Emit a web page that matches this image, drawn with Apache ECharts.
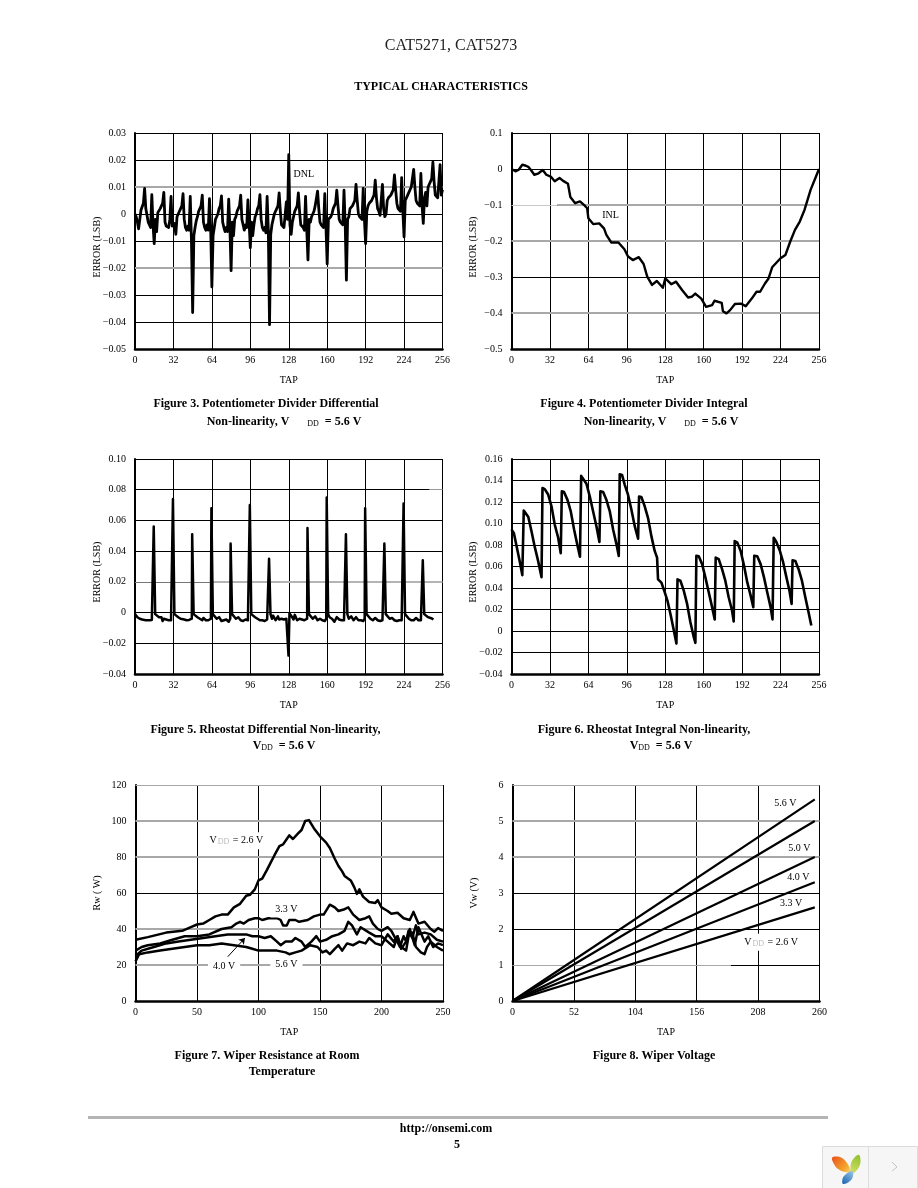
<!DOCTYPE html>
<html><head><meta charset="utf-8">
<style>html,body{margin:0;padding:0;background:#fff}#c{width:918px;height:1188px}</style>
<script src="https://cdn.jsdelivr.net/npm/echarts@6/dist/echarts.min.js"></script>
</head><body><div id="c"></div>
<script>
const taps256 = ['0','32','64','96','128','160','192','224','256'];
const taps250 = ['0','50','100','150','200','250'];
const taps260 = ['0','52','104','156','208','260'];
const fig3Ticks = ['−0.05','−0.04','−0.03','−0.02','−0.01','0','0.01','0.02','0.03'];
const fig4Ticks = ['−0.5','−0.4','−0.3','−0.2','−0.1','0','0.1'];
const fig5Ticks = ['−0.04','−0.02','0','0.02','0.04','0.06','0.08','0.10'];
const fig6Ticks = ['−0.04','−0.02','0','0.02','0.04','0.06','0.08','0.10','0.12','0.14','0.16'];
const fig7Ticks = ['0','20','40','60','80','100','120'];
const fig8Ticks = ['0','1','2','3','4','5','6'];

// Figure 3: DNL, one value per tap
const potDnl = [
0,-.001,-.003,-.0055,-.002,.0015,.002,.004,
.0095,.002,.002,-.003,-.0035,-.005,.0072,-.004,
-.011,-.002,-.0065,.0005,.001,.002,.003,.004,
.008,-.003,-.0045,-.004,-.005,-.002,.0065,-.0045,
-.0045,-.0035,-.0075,-.001,0,.001,.002,.003,
.0075,-.002,-.005,-.006,-.0045,-.006,.0065,-.01,
-.0365,-.008,-.005,-.0025,-.001,.001,.002,.003,
.007,-.003,-.005,-.006,-.004,-.006,.0057,-.005,
-.027,-.008,-.005,-.002,-.001,0,.002,.003,
.0067,-.003,-.005,-.0065,-.005,-.0065,.0055,-.005,
-.021,-.003,-.008,-.002,-.001,.001,.002,.003,
.007,-.002,-.004,-.006,-.004,-.005,.0052,-.003,
-.0125,-.003,-.008,-.004,-.001,0,.002,.003,
.0072,-.002,-.005,-.006,-.005,-.007,.0065,-.006,
-.041,-.0075,-.004,-.002,0,.001,.002,.003,
.0078,.001,-.004,-.0045,-.005,-.0055,.0045,-.002,
.022,-.004,-.0075,-.003,-.001,.001,.002,.003,
.0078,.001,-.004,-.0045,-.005,-.006,.0065,-.006,
-.017,-.002,-.003,-.001,0,.001,.003,.003,
.0085,.002,-.003,-.004,-.004,-.005,.0075,-.005,
-.0185,-.002,-.002,-.001,0,.002,.003,.004,
.0088,.003,-.002,-.003,-.003,-.004,.0088,-.004,
-.0245,-.002,-.001,.002,.002,.003,.004,.005,
.011,.005,0,-.001,-.001,-.002,.0095,-.002,
-.011,.001,.003,.004,.004,.005,.006,.007,
.0125,.006,.002,.001,-.0005,-.001,.011,.002,
-.001,0,.005,.006,.006,.007,.008,.009,
.0145,.009,.004,.002,.002,.001,.0135,.001,
-.0085,.005,.005,.007,.008,.008,.01,.01,
.0165,.01,.005,.004,.004,.003,.015,.003,
-.0035,.006,.008,.003,.01,.011,.011,.013,
.0192,.012,.007,.007,.006,.006,.0183,.007,.009];

// Figure 4: INL
const potInlTap = [0,3.3,6,9,12,14,16,19,22,26,29,33,36,40,43,47,49,53,57,61,63,64,68,73,77,79,83,89,94,97,101,106,110,113,117,121,126,128,133,137,142,147,150,153,158,162,167,169,175,176,179,182,186,191,195,200,204,207,211,214,217,224,228,232,236,240,244,249,253,256];
const potInlErr = [0,-.0065,-.002,.012,.009,.006,-.002,-.016,-.013,-.003,-.016,-.022,-.034,-.025,-.033,-.041,-.078,-.095,-.09,-.102,-.109,-.137,-.153,-.151,-.165,-.183,-.204,-.204,-.223,-.243,-.253,-.245,-.264,-.299,-.322,-.311,-.33,-.304,-.32,-.313,-.336,-.357,-.355,-.346,-.36,-.383,-.378,-.366,-.372,-.395,-.401,-.392,-.375,-.374,-.381,-.36,-.341,-.341,-.318,-.304,-.273,-.248,-.239,-.202,-.169,-.146,-.113,-.058,-.025,0];

// Figure 5: rheostat DNL
const rheoDnl = [
[0,-.001],[1,-.002],[2,-.003],[3,-.003],[4,-.004],[6,-.0045],[7,-.004],[9,-.005],[10,-.0045],[12,-.005],[14,-.0048],[15.3,-.004],[15.6,.056],[16.1,.056],[16.8,-.001],
[18,-.002],[20,-.003],[22,-.003],[23,-.0055],[24,-.004],[26,-.0045],[28,-.005],[30,-.005],[31.2,-.004],[31.6,.074],[32.1,.074],[32.8,-.001],
[34,-.002],[36,-.003],[38,-.004],[39,-.003],[41,-.0045],[43,-.005],[45,-.0048],[47.3,-.004],[47.6,.051],[48.1,.051],[48.8,-.001],
[50,-.002],[52,-.003],[54,-.004],[56,-.005],[57,-.0035],[59,-.005],[61,-.005],[63.2,-.004],[63.6,.068],[64.1,.068],[64.8,-.001],
[66,-.002],[68,-.004],[70,-.003],[72,-.0055],[74,-.005],[76,-.0045],[78,-.006],[79.3,-.004],[79.6,.045],[80.1,.045],[80.8,-.001],
[82,-.002],[84,-.004],[86,-.003],[88,-.005],[90,-.0055],[92,-.0045],[94,-.005],[95.2,-.004],[95.6,.07],[96.1,.07],[96.8,-.001],
[98,-.002],[100,-.003],[102,-.004],[104,-.005],[106,-.005],[108,-.0055],[110,-.0045],[111.3,-.004],[111.6,.035],[112.1,.035],[112.8,-.001],
[114,-.004],[115,-.002],[117,-.005],[119,-.0025],[120,-.0045],[122,-.004],[124,-.0045],[126,-.004],[127,-.005],[127.8,-.028],[128.1,-.028],[128.6,-.0005],
[130,-.002],[132,-.0045],[133,-.0015],[135,-.005],[137,-.004],[139,-.0045],[141,-.005],[143.3,-.004],[143.6,.055],[144.1,.055],[144.8,-.001],
[146,-.002],[148,-.004],[150,-.0025],[152,-.005],[154,-.004],[156,-.005],[158,-.0055],[159.2,-.004],[159.6,.075],[160.1,.075],[160.8,-.001],
[162,-.003],[164,-.004],[166,-.006],[168,-.003],[170,-.0045],[172,-.005],[174,-.005],[175.3,-.004],[175.6,.051],[176.1,.051],[176.8,-.001],
[178,-.004],[180,-.0025],[182,-.005],[184,-.003],[186,-.005],[188,-.005],[190,-.0055],[191.2,-.004],[191.6,.068],[192.1,.068],[192.8,-.001],
[194,-.002],[196,-.004],[198,-.005],[200,-.0035],[202,-.005],[204,-.0055],[206,-.005],[207.3,-.004],[207.6,.045],[208.1,.045],[208.8,-.001],
[210,-.002],[212,-.004],[214,-.0035],[216,-.005],[218,-.0055],[220,-.005],[222,-.005],[223.2,-.004],[223.6,.071],[224.1,.071],[224.8,-.001],
[226,-.002],[228,-.004],[230,-.005],[232,-.005],[234,-.0035],[236,-.005],[238,-.005],[239.3,-.004],[239.6,.034],[240.1,.034],[240.8,-.001],
[242,-.002],[244,-.003],[246,-.0035],[247,-.003],[248.5,-.0045]];

// Figure 6: rheostat INL
const rheoInl = [
[0,.0945],[2,.091],[4.2,.079],[7,.064],[9,.052],[9.4,.051],[10.2,.112],[11,.1125],[14,.106],[16.6,.093],[19.4,.078],[22.2,.065],[25,.05],
[25.8,.133],[27.7,.132],[30.5,.127],[33.3,.116],[36,.099],[38.8,.087],[41,.0723],
[41.9,.13],[43.7,.1293],[46.6,.122],[49.4,.111],[52.1,.0945],[55,.079],[57,.0692],
[58,.1443],[59.6,.1437],[62.4,.137],[65.2,.125],[68,.111],[70.7,.0975],[73.2,.0828],
[74,.13],[76.3,.1293],[79,.122],[81.9,.111],[84.6,.0945],[87.4,.0806],[89.3,.0698],
[90.1,.1458],[92,.1452],[94.3,.136],[97,.1268],[99.8,.113],[102.6,.0975],[105.4,.0858],
[106.2,.125],[108.1,.1246],[110.9,.116],[113.7,.105],[116.5,.088],[119.2,.0745],[121.2,.0683],
[122,.048],[124.8,.045],[127.6,.036],[129.8,.0283],[132.6,.0145],[135.4,-.001],[137.3,-.0117],
[138.2,.048],[140.6,.0468],[143.4,.0375],[146.2,.0252],[148.9,.0083],[151.7,-.0055],[153.1,-.011],
[153.9,.07],[155.9,.0695],[158.7,.0622],[161.4,.0499],[164.2,.036],[167,.0222],[169.2,.0108],
[170,.0683],[172.5,.0668],[175.3,.0575],[178,.0468],[180.8,.0314],[183.6,.0191],[185,.0089],
[185.8,.0837],[188,.0822],[190.8,.0745],[193.6,.0606],[196.3,.0452],[199.1,.0329],[201.3,.0222],
[202.1,.07],[204.6,.0695],[207.4,.0622],[210.2,.0499],[212.9,.036],[215.7,.0222],[217.3,.0108],
[218.3,.0868],[220.4,.0831],[223.2,.0754],[226,.0646],[228.7,.0508],[231.5,.0369],[233.2,.0252],
[234,.0658],[236.3,.0652],[239,.0575],[241.8,.0468],[244.6,.0314],[247.3,.0175],[249.6,.0052]];

// Figure 7: wiper resistance, [tap, ohms]
const rw26 = [[0,34],[10,35.5],[25,38],[38,39],[45,41],[50,42.5],[55,43],[60,45],[65,47],[70,48],[75,48],[80,52],[85,54],[90,58.5],[93,59],[97,62],[100,67],[103,68],[107,73],[110,77],[113,81],[117,86],[120,87],[123,90],[125,92],[128,90],[132,93],[135,95],[138,100],[141,100.5],[145,96],[150,91.5],[155,88],[158,85],[162,79],[165,75],[168,72],[170,69.5],[175,67],[178,63],[180,59.5],[182,62],[185,58],[190,55],[195,54.5],[197,56],[200,52],[205,50],[208,48.5],[213,49],[218,46],[223,45],[226,49.5],[230,43],[235,44],[240,40],[243,38.5],[246,40.5],[250,39]];
const rw33 = [[0,28],[5,30],[10,31],[20,32],[30,34],[40,36],[50,36],[60,37],[70,40],[78,41],[82,43],[85,44],[88,43],[92,45],[97,46],[100,46],[103,45],[108,46],[115,46],[118,45],[120,42],[123,42],[125,45],[130,45],[133,44],[140,45],[145,47],[150,48],[153,48],[158,53.5],[162,52],[165,50],[170,51],[173,52],[177,48],[182,45],[187,46],[190,47],[193,43],[197,40],[200,39],[205,41],[208,39],[212,34],[215,30],[218,36],[220,33],[222,39],[225,35],[228,42],[230,37],[235,38],[240,37],[245,34],[250,33]];
const rw40 = [[0,25],[5,28],[15,30],[25,32],[35,33],[45,34],[55,35],[65,36],[75,37],[85,37],[90,37],[95,36],[100,36],[105,35],[110,36],[115,33],[118,31],[122,33],[127,33],[130,35],[135,33],[138,30],[143,33],[147,36],[150,33],[155,34],[160,36],[165,37],[170,39],[173,44],[176,42],[180,37],[183,41],[190,38],[195,36],[200,36],[205,33],[210,30],[213,36],[216,30],[220,28],[222,36],[225,38],[228,30],[232,27],[235,26],[237,30],[240,33],[245,30],[250,28]];
const rw56 = [[0,22],[3,26],[10,27],[20,28],[30,29],[40,30],[50,31],[60,31],[70,32],[80,31],[90,30],[95,29],[100,28],[105,28],[115,28],[122,27],[125,26],[130,27],[135,28],[142,31],[148,30],[152,27],[155,28],[158,26],[162,29],[165,31],[168,28],[172,32],[177,31],[182,33],[187,32],[190,35],[195,32],[200,31],[205,37],[210,33],[213,36],[216,29],[220,33],[223,40],[227,31],[230,41],[235,33],[238,36],[242,30],[246,32],[250,31]];

// Figure 8: wiper voltage
const vw56 = [[0,0],[256,5.6]];
const vw50 = [[0,0],[256,5.0]];
const vw40 = [[0,0],[256,4.0]];
const vw33 = [[0,0],[256,3.3]];
const vw26 = [[0,0],[256,2.6]];

const SERIF = '"Liberation Serif","Times New Roman",serif';
const vdd = t => '{v|V}{d|DD}{v| = ' + t + '}';

const panels = [
 {box:[135,133,307.5,216], w:2.8, x:[256,32,taps256], y:[-.05,.03,.01,fig3Ticks], yName:'ERROR (LSB)', shift:12,
  lines:[potDnl.map((v,i)=>[i,v])],
  grey:[[.01,0,256,'#a8a8a8',2],[-.02,0,256,'#a8a8a8',2]],
  notes:[[140.6,.0148,'DNL']]},
 {box:[511.5,133,307.5,216], w:2.4, x:[256,32,taps256], y:[-.5,.1,.1,fig4Ticks], yName:'ERROR (LSB)', shift:12,
  lines:[potInlTap.map((t,i)=>[t,potInlErr[i]])],
  grey:[[-.1,0,38,'#c8c8c8',1],[-.1,38,256,'#a8a8a8',2],[-.2,0,256,'#a8a8a8',2],[-.4,0,256,'#a8a8a8',2]],
  notes:[[82.5,-.13,'INL']]},
 {box:[135,459,307.5,215], w:2.5, x:[256,32,taps256], y:[-.04,.1,.02,fig5Ticks], yName:'ERROR (LSB)', shift:11,
  lines:[rheoDnl],
  grey:[[.02,0,64,'#777',1],[.02,64,256,'#b4b4b4',2],[.08,245,256,'#999',1]],
  notes:[]},
 {box:[511.5,459,307.5,215], w:2.6, x:[256,32,taps256], y:[-.04,.16,.02,fig6Ticks], yName:'ERROR (LSB)', shift:11,
  lines:[rheoInl], grey:[], notes:[]},
 {box:[135.5,785,307.5,216], w:2.5, x:[250,50,taps250], y:[0,120,20,fig7Ticks], yName:'Rw ( W)', shift:0,
  lines:[rw26,rw33,rw40,rw56],
  grey:[[120,0,250,'#a8a8a8',1],[100,0,250,'#a8a8a8',2],[80,0,250,'#a8a8a8',2],[40,0,250,'#a8a8a8',2],[20,0,250,'#a8a8a8',2]],
  notes:[[82,89,vdd('2.6 V'),'#fff'],[122.7,50.8,'3.3 V','#fff'],[72,19.4,'4.0 V','#fff'],[122.7,20.5,'5.6 V','#fff']],
  arrow:[[75,24.6],[89,35]]},
 {box:[512.5,785,307,216], w:2.2, x:[260,52,taps260], y:[0,6,1,fig8Ticks], yName:'Vw (V)', shift:0,
  lines:[vw56,vw50,vw40,vw33,vw26],
  grey:[[6,0,260,'#a8a8a8',1],[5,0,260,'#a8a8a8',2],[4,0,260,'#a8a8a8',2],[1,0,185,'#a8a8a8',1]],
  notes:[[231,5.5,'5.6 V'],[243,4.25,'5.0 V'],[242,3.43,'4.0 V'],[236,2.7,'3.3 V'],[219,1.63,vdd('2.6 V'),'#fff']]}
];

const grid=[],xAxis=[],yAxis=[],series=[];
panels.forEach((p,k)=>{
 grid.push({left:p.box[0],top:p.box[1],width:p.box[2],height:p.box[3],show:false});
 xAxis.push({gridIndex:k,type:'value',min:0,max:p.x[0],interval:p.x[1],
  name:'TAP',nameLocation:'middle',nameGap:26,nameMoveOverlap:false,nameTextStyle:{fontFamily:SERIF,fontSize:10,color:'#000'},
  axisLine:{show:true,onZero:false,lineStyle:{color:'#000',width:2.5}},axisTick:{show:false},
  axisLabel:{color:'#000',fontFamily:SERIF,fontSize:10,margin:6,formatter:(v,i)=>p.x[2][i]},
  splitLine:{show:true,lineStyle:{color:'#000',width:1}}});
 yAxis.push({gridIndex:k,type:'value',min:p.y[0],max:p.y[1],interval:p.y[2],
  name:p.yName,nameLocation:'middle',nameGap:33,nameRotate:90,nameMoveOverlap:false,
  nameTextStyle:{fontFamily:SERIF,fontSize:10,color:'#000',padding:[0,p.shift,0,0]},
  axisLine:{show:true,onZero:false,lineStyle:{color:'#000',width:2}},axisTick:{show:false},
  axisLabel:{color:'#000',fontFamily:SERIF,fontSize:10,margin:9,formatter:(v,i)=>p.y[3][i]},
  splitLine:{show:true,lineStyle:{color:'#000',width:1}}});
 const ml=p.grey.map(g=>[
   {coord:[g[1],g[0]],lineStyle:{color:g[3],width:g[4],type:'solid'}},
   {coord:[g[2],g[0]]}]);
 series.push({type:'line',xAxisIndex:k,yAxisIndex:k,data:[],silent:true,z:1,
  markLine:{silent:true,symbol:'none',animation:false,label:{show:false},z:1,data:ml}});
 p.lines.forEach(d=>series.push({type:'line',xAxisIndex:k,yAxisIndex:k,data:d,silent:true,z:3,
   showSymbol:false,symbol:'none',lineStyle:{color:'#000',width:p.w,join:'round'}}));
 const last={type:'line',xAxisIndex:k,yAxisIndex:k,data:[],silent:true,z:4,
  markPoint:{silent:true,animation:false,symbol:'circle',symbolSize:1,itemStyle:{color:'transparent'},
   data:p.notes.map(n=>({coord:[n[0],n[1]],label:{show:true,position:'inside',formatter:n[2],
     color:'#000',fontFamily:SERIF,fontSize:10,backgroundColor:n[3]||'transparent',padding:n[3]?[3,5]:0,
     rich:{v:{color:'#000',fontFamily:SERIF,fontSize:10},d:{color:'#bbb',fontSize:8,fontFamily:SERIF,padding:[3,1,0,1]}}}}))}};
 if(p.arrow) last.markLine={silent:true,animation:false,label:{show:false},symbol:['none','arrow'],symbolSize:6,
   data:[[{coord:p.arrow[0],lineStyle:{color:'#000',width:1,type:'solid'}},{coord:p.arrow[1]}]]};
 series.push(last);
});

const txt=(x,y,text,font,extra)=>({type:'text',silent:true,z:10,style:Object.assign({x,y,text,font,fill:'#000',align:'center',verticalAlign:'middle'},extra||{})});
const CAP='bold 12px '+SERIF;
const sub=(a,b)=>({text:'{b|'+a+'}{s|DD}{b|'+b+'}',rich:{b:{font:CAP,fill:'#000'},s:{font:'8px '+SERIF,fill:'#000',padding:[3,0,0,0]}}});
const leafs=[
 {pts:[[832,1158],[836,1156.5],[842,1158],[847,1163],[851,1172],[845,1172],[838,1169],[834,1164]],
  grad:{x:0,y:0,x2:1,y2:1,colorStops:[{offset:0,color:'#e8501a'},{offset:.7,color:'#f4a72e'},{offset:1,color:'#f8dc80'}]}},
 {pts:[[859,1155],[860.5,1160],[859.5,1166],[856,1171],[852,1174],[850.5,1168],[851.5,1162],[855,1157]],
  grad:{x:1,y:0,x2:0,y2:1,colorStops:[{offset:0,color:'#8fbf2c'},{offset:1,color:'#d6e26a'}]}},
 {pts:[[843,1184],[842.5,1179],[845,1175],[852,1171],[853,1176],[850,1181]],
  grad:{x:1,y:0,x2:0,y2:1,colorStops:[{offset:0,color:'#9cc8e8'},{offset:1,color:'#1560b0'}]}}
];
const graphic=[
 txt(451,46,'CAT5271, CAT5273','16px '+SERIF,{fill:'#222'}),
 txt(441,87,'TYPICAL CHARACTERISTICS','bold 12px '+SERIF),
 txt(266,404,'Figure 3. Potentiometer Divider Differential',CAP),
 txt(284,422,'',CAP,sub('Non-linearity, V      ','  = 5.6 V')),
 txt(644,404,'Figure 4. Potentiometer Divider Integral',CAP),
 txt(661,422,'',CAP,sub('Non-linearity, V      ','  = 5.6 V')),
 txt(265.5,730,'Figure 5. Rheostat Differential Non-linearity,',CAP),
 txt(284,746,'',CAP,sub('V','  = 5.6 V')),
 txt(644,730,'Figure 6. Rheostat Integral Non-linearity,',CAP),
 txt(661,746,'',CAP,sub('V','  = 5.6 V')),
 txt(267,1056,'Figure 7. Wiper Resistance at Room',CAP),
 txt(282,1072,'Temperature',CAP),
 txt(654,1056,'Figure 8. Wiper Voltage',CAP),
 {type:'rect',silent:true,shape:{x:88,y:1116,width:740,height:3},style:{fill:'#b4b4b4'}},
 txt(446,1129,'http://onsemi.com',CAP),
 txt(457,1145,'5',CAP),
 {type:'rect',silent:true,shape:{x:822.5,y:1146.5,width:95,height:42},style:{fill:'#f6f6f6',stroke:'#dcdcdc',lineWidth:1}},
 {type:'line',silent:true,shape:{x1:868.5,y1:1146,x2:868.5,y2:1188},style:{stroke:'#dcdcdc',lineWidth:1}},
 ...leafs.map(l=>({type:'polygon',silent:true,z:5,shape:{points:l.pts,smooth:.4},style:{fill:Object.assign({type:'linear'},l.grad)}})),
 {type:'polyline',silent:true,z:5,shape:{points:[[892,1162],[897,1167],[892,1171]]},style:{stroke:'#c4c4c4',fill:'none',lineWidth:1}}
];

const chart=echarts.init(document.getElementById('c'),null,{renderer:'canvas'});
chart.setOption({animation:false,backgroundColor:'#fff',grid,xAxis,yAxis,series,graphic});
</script></body></html>
